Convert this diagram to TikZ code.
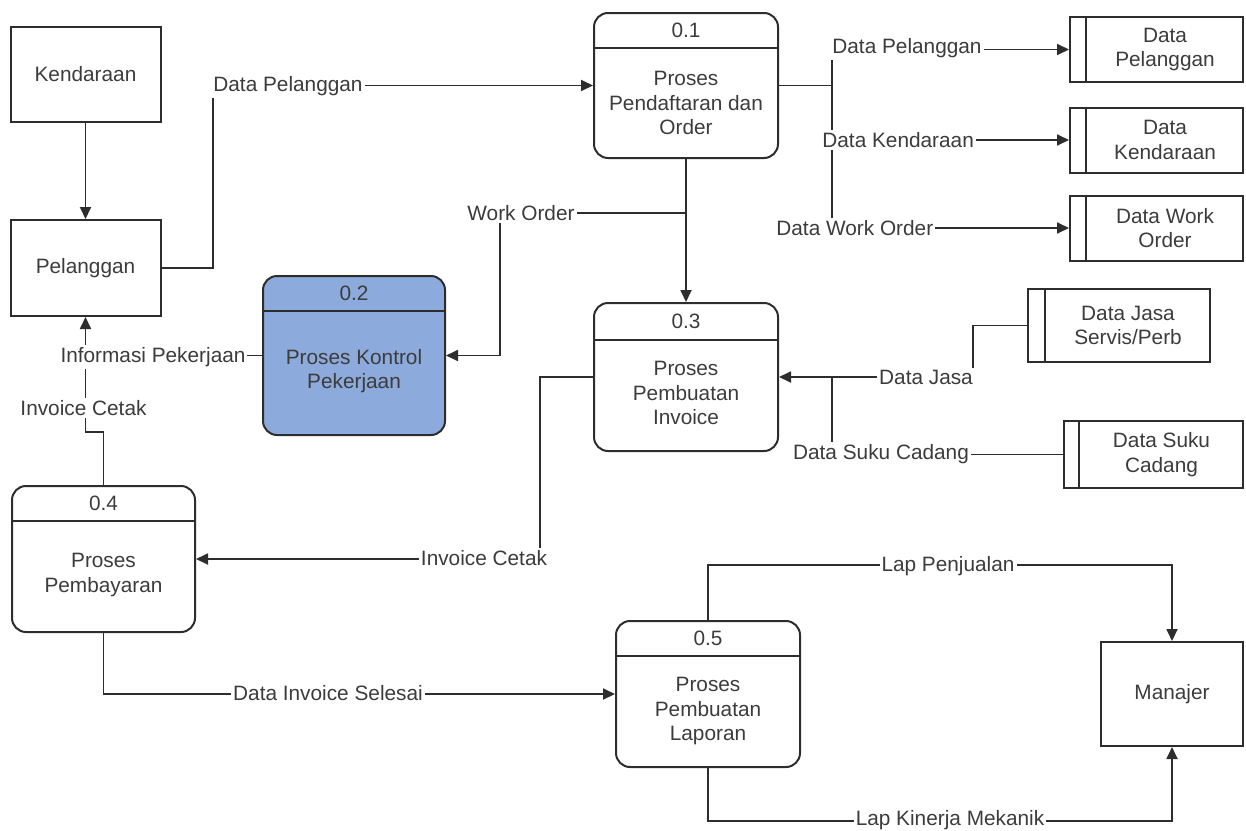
\documentclass[tikz,border=0pt]{standalone}
\usepackage{fontspec}
\setmainfont{Liberation Sans}
\usepackage{xcolor}
\usetikzlibrary{arrows.meta}
\definecolor{txtgray}{RGB}{60,60,60}
\definecolor{linegray}{RGB}{45,45,45}
\definecolor{kontrolblue}{RGB}{140,170,220}

\begin{document}
\begin{tikzpicture}[x=0.5pt, y=-0.5pt,
  every node/.style={font=\fontsize{10.4}{12.2}\selectfont, text=txtgray},
  entitas/.style={draw=linegray, line width=1pt, minimum width=75pt, minimum height=48pt},
  proses/.style={draw=linegray, line width=1pt, rounded corners=7pt, minimum width=92pt, minimum height=73pt},
  store/.style={draw=linegray, line width=1pt, minimum width=86.5pt, minimum height=32.5pt},
  isi/.style={align=center, inner sep=0pt},
  lbl/.style={fill=white, inner sep=1pt},
  flow/.style={draw=linegray, line width=0.9pt, -{Triangle[length=6pt,width=5.5pt]}},
  garis/.style={draw=linegray, line width=0.9pt}]
\useasboundingbox (0,0) rectangle (1246,830);

% Entitas luar
\node[entitas, minimum height=47.5pt] (kendaraan) at (85.5,74.5) {Kendaraan};
\node[entitas] (pelanggan) at (85.5,268) {Pelanggan};
\node[entitas, minimum width=71pt, minimum height=52pt] (manajer) at (1172,694) {Manajer};

% Proses 0.1
\node[proses, minimum height=72.5pt] (p01) at (686,85.5) {};
\draw[garis, line width=1pt] ([yshift=-18pt]p01.north west) -- ([yshift=-18pt]p01.north east);
\node[isi] (n01) at ([yshift=-9pt]p01.north) {0.1};
\node[isi] (t01) at (686,103) {Proses\\Pendaftaran dan\\Order};

% Proses 0.2
\node[proses, fill=kontrolblue, minimum width=91pt, minimum height=79.5pt] (p02) at (354,355.5) {};
\draw[garis, line width=1pt] ([yshift=-18pt]p02.north west) -- ([yshift=-18pt]p02.north east);
\node[isi] (n02) at ([yshift=-9pt]p02.north) {0.2};
\node[isi] (t02) at (354,371) {Proses Kontrol\\Pekerjaan};

% Proses 0.3
\node[proses, minimum height=74pt] (p03) at (686,377) {};
\draw[garis, line width=1pt] ([yshift=-19pt]p03.north west) -- ([yshift=-19pt]p03.north east);
\node[isi] (n03) at ([yshift=-9.5pt]p03.north) {0.3};
\node[isi] (t03) at (686,393) {Proses\\Pembuatan\\Invoice};

% Proses 0.4
\node[proses, minimum width=91.5pt] (p04) at (103.5,559) {};
\draw[garis, line width=1pt] ([yshift=-18pt]p04.north west) -- ([yshift=-18pt]p04.north east);
\node[isi] (n04) at ([yshift=-9pt]p04.north) {0.4};
\node[isi] (t04) at (103.5,575) {Proses\\Pembayaran};

% Proses 0.5
\node[proses] (p05) at (708,694) {};
\draw[garis, line width=1pt] ([yshift=-18pt]p05.north west) -- ([yshift=-18pt]p05.north east);
\node[isi] (n05) at ([yshift=-9pt]p05.north) {0.5};
\node[isi] (t05) at (708,711) {Proses\\Pembuatan\\Laporan};

% Data store
\node[store] (dpel) at (1156.5,49.5) {};
\node[store] (dken) at (1156.5,140) {};
\node[store] (dwo) at (1156.5,228) {};
\node[store, minimum width=91pt, minimum height=36.5pt] (djasa) at (1119,325.5) {};
\node[store, minimum width=89.5pt, minimum height=33.5pt] (dsuku) at (1153.5,454.5) {};
\foreach \s/\d in {dpel/8.5, dken/8.5, dwo/8.5, djasa/9, dsuku/8}
  \draw[garis, line width=1pt] ([xshift=\d pt]\s.north west) -- ([xshift=\d pt]\s.south west);
\node[isi] (tdpel) at ([xshift=4.25pt]dpel.center) {Data\\Pelanggan};
\node[isi] (tdken) at ([xshift=4.25pt]dken.center) {Data\\Kendaraan};
\node[isi] (tdwo) at ([xshift=4.25pt]dwo.center) {Data Work\\Order};
\node[isi] (tdjasa) at ([xshift=4.5pt]djasa.center) {Data Jasa\\Servis/Perb};
\node[isi] (tdsuku) at ([xshift=4pt]dsuku.center) {Data Suku\\Cadang};

% Aliran data
\draw[flow] (kendaraan) -- (pelanggan);
\draw[flow] (pelanggan.east) -| (213,85.5) -- (p01.west);
\node[lbl, anchor=west] (lpel) at (211,86) {Data Pelanggan};

\coordinate (cab) at (832,85.5);
\draw[garis] (p01.east) -- (cab);
\draw[garis] (cab |- dpel.west) -- (cab |- dwo.west);
\draw[flow] (cab |- dpel.west) -- (dpel.west);
\draw[flow] (cab |- dken.west) -- (dken.west);
\draw[flow] (cab |- dwo.west) -- (dwo.west);
\node[lbl, anchor=west] (ldpel) at (830,48) {Data Pelanggan};
\node[lbl, anchor=west] (ldken) at (820,140) {Data Kendaraan};
\node[lbl, anchor=west] (ldwo) at (774,228) {Data Work Order};

\coordinate (wo) at (686,213);
\draw[flow] (p01.south) -- (p03.north);
\draw[flow] (wo) -- (500,213) |- (p02.east);
\node[lbl] (lwo) at (521,213) {Work Order};

\draw[garis] (p02.west) -- (85.5,355.5);
\draw[flow] (p04.north) |- (85.5,432) -- (pelanggan.south);
\node[lbl] (linfo) at (153,357) {Informasi Pekerjaan};
\node[lbl] (linv1) at (83.5,408) {Invoice Cetak};

\draw[flow] (p03.west) -| (540,559) -- (p04.east);
\node[lbl] (linv2) at (484,558) {Invoice Cetak};

\draw[flow] (djasa.west) -| (973,377) -- (p03.east);
\draw[garis] (dsuku.west) -| (832,377);
\node[lbl] (ljasa) at (926,377) {Data Jasa};
\node[lbl] (lsuku) at (881,454) {Data Suku Cadang};

\draw[flow] (p04.south) |- (p05.west);
\node[lbl] (lsel) at (328,693) {Data Invoice Selesai};

\draw[flow] (p05.north) -- ++(0,-55) -| (manajer.north);
\node[lbl] (ljual) at (948,566) {Lap Penjualan};
\draw[flow] (p05.south) -- ++(0,53) -| (manajer.south);
\node[lbl] (lkin) at (950,820) {Lap Kinerja Mekanik};
\end{tikzpicture}
\end{document}
